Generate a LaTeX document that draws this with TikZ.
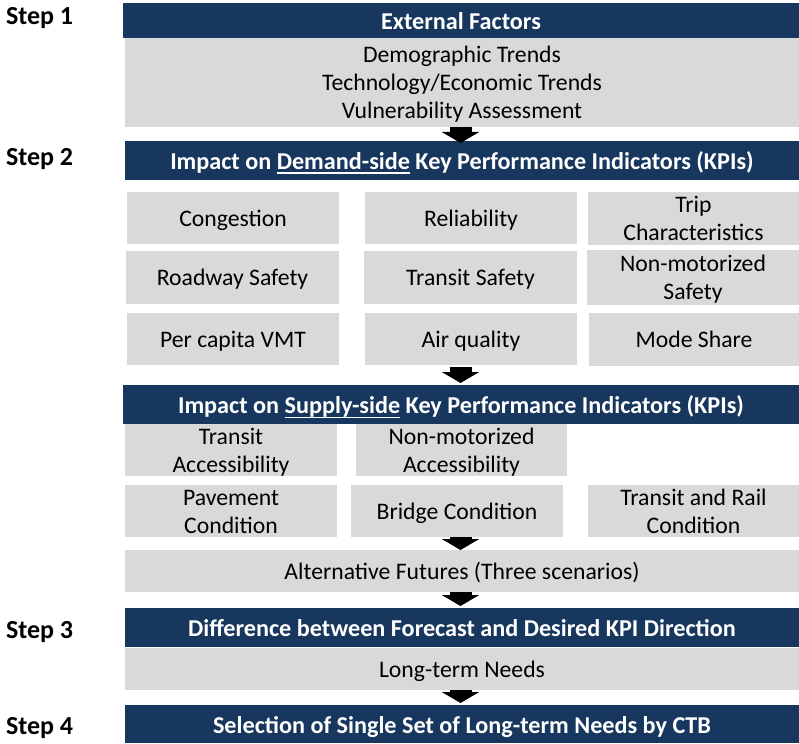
\documentclass[tikz,border=0pt]{standalone}
\usepackage{fontspec}
\setmainfont{Carlito}
\usetikzlibrary{arrows.meta}
\definecolor{navy}{RGB}{23,55,94}
\definecolor{lgray}{RGB}{217,217,217}
\newcommand\myul[1]{\setbox0\hbox{#1}\rlap{\rule[-4.7pt]{\wd0}{1.7pt}}\box0\relax}
% gray text: #1 = number of lines; a zero-size box whose lines sit so that
% the middle of their baselines is 8.2pt below the centre of the node
\newcommand\gtxt[2]{\smash{\lower\dimexpr 8.2pt-14pt*(#1-1)\relax\hbox{\begin{tabular}[t]{@{}c@{}}#2\end{tabular}}}}
% bar text strut (height 24, depth 6)
\newcommand\barst{\rule[-6pt]{0pt}{30pt}}
\begin{document}
\begin{tikzpicture}[x=1pt,y=-1pt,
 wh/.style 2 args={minimum width=#1pt, minimum height=#2pt},
 box/.style={fill=lgray, draw=none, inner sep=0pt, outer sep=0pt, anchor=north west, font=\fontsize{23.7}{28}\selectfont, text=black},
 bar/.style={fill=navy, draw=none, inner sep=0pt, outer sep=0pt, anchor=north west, font=\fontsize{24.2}{28}\selectfont\bfseries, text=white},
 steplbl/.style={inner sep=0pt, outer sep=0pt, anchor=base west, font=\fontsize{26}{30}\selectfont\bfseries, text=black},
 blockarrow/.style={line width=22pt, draw=black, -{Triangle[width=37pt,length=11pt]}}
]
\useasboundingbox (0,0) rectangle (799,743);
% step labels
\node[steplbl] (st1) at (6,25) {Step 1};
\node[steplbl] (st2) at (6,166) {Step 2};
\node[steplbl] (st3) at (6,638) {Step 3};
\node[steplbl] (st4) at (6,734) {Step 4};
% step 1
\node[bar, wh={676}{35}] (b1) at (123,3) {\barst External Factors};
\node[box, wh={674}{89}] (g1) at (125,38) {\gtxt{3}{Demographic Trends\\Technology/Economic Trends\\Vulnerability Assessment}};
% step 2 demand side
\node[bar, wh={674}{39}] (b2) at (125,141) {\barst Impact on \myul{Demand-side} Key Performance Indicators (KPIs)};
\node[box, wh={212}{52}] (d11) at (127,192) {\gtxt{1}{Congestion}};
\node[box, wh={212}{52}] (d12) at (365,192) {\gtxt{1}{Reliability}};
\node[box, wh={211}{53}] (d13) at (588,192) {\gtxt{2}{Trip\\Characteristics}};
\node[box, wh={213}{53}] (d21) at (126,251) {\gtxt{1}{Roadway Safety}};
\node[box, wh={213}{53}] (d22) at (364,251) {\gtxt{1}{Transit Safety}};
\node[box, wh={212}{55}] (d23) at (587,250) {\gtxt{2}{Non-motorized\\Safety}};
\node[box, wh={212}{52}] (d31) at (127,313) {\gtxt{1}{Per capita VMT}};
\node[box, wh={212}{52}] (d32) at (365,313) {\gtxt{1}{Air quality}};
\node[box, wh={210}{53}] (d33) at (589,313) {\gtxt{1}{Mode Share}};
% supply side
\node[bar, wh={676}{39}] (b3) at (123,385) {\barst Impact on \myul{Supply-side} Key Performance Indicators (KPIs)};
\node[box, wh={212}{52}] (s11) at (125,424) {\gtxt{2}{Transit\\Accessibility}};
\node[box, wh={211}{52}] (s12) at (356,424) {\gtxt{2}{Non-motorized\\Accessibility}};
\node[box, wh={212}{52}] (s21) at (125,485) {\gtxt{2}{Pavement\\Condition}};
\node[box, wh={212}{52}] (s22) at (351,485) {\gtxt{1}{Bridge Condition}};
\node[box, wh={211}{52}] (s23) at (588,485) {\gtxt{2}{Transit and Rail\\Condition}};
\node[box, wh={674}{42}] (alt) at (125,550) {\gtxt{1}{Alternative Futures (Three scenarios)}};
% step 3
\node[bar, wh={674}{39}] (b4) at (125,608) {\barst Difference between Forecast and Desired KPI Direction};
\node[box, wh={674}{42}] (ltn) at (125,648) {\gtxt{1}{Long-term Needs}};
% step 4
\node[bar, wh={674}{38}] (b5) at (125,705) {\barst Selection of Single Set of Long-term Needs by CTB};
% arrows
\coordinate (ax) at (460.5,0);
\draw[blockarrow] (g1.south -| ax) -- ([yshift=-2pt]b2.north -| ax);
\draw[blockarrow] ([yshift=-2pt]d32.south -| ax) -- ([yshift=2pt]b3.north -| ax);
\draw[blockarrow] (s22.south -| ax) -- (alt.north -| ax);
\draw[blockarrow] (alt.south -| ax) -- ([yshift=2pt]b4.north -| ax);
\draw[blockarrow] (ltn.south -| ax) -- ([yshift=2pt]b5.north -| ax);
\end{tikzpicture}
\end{document}
